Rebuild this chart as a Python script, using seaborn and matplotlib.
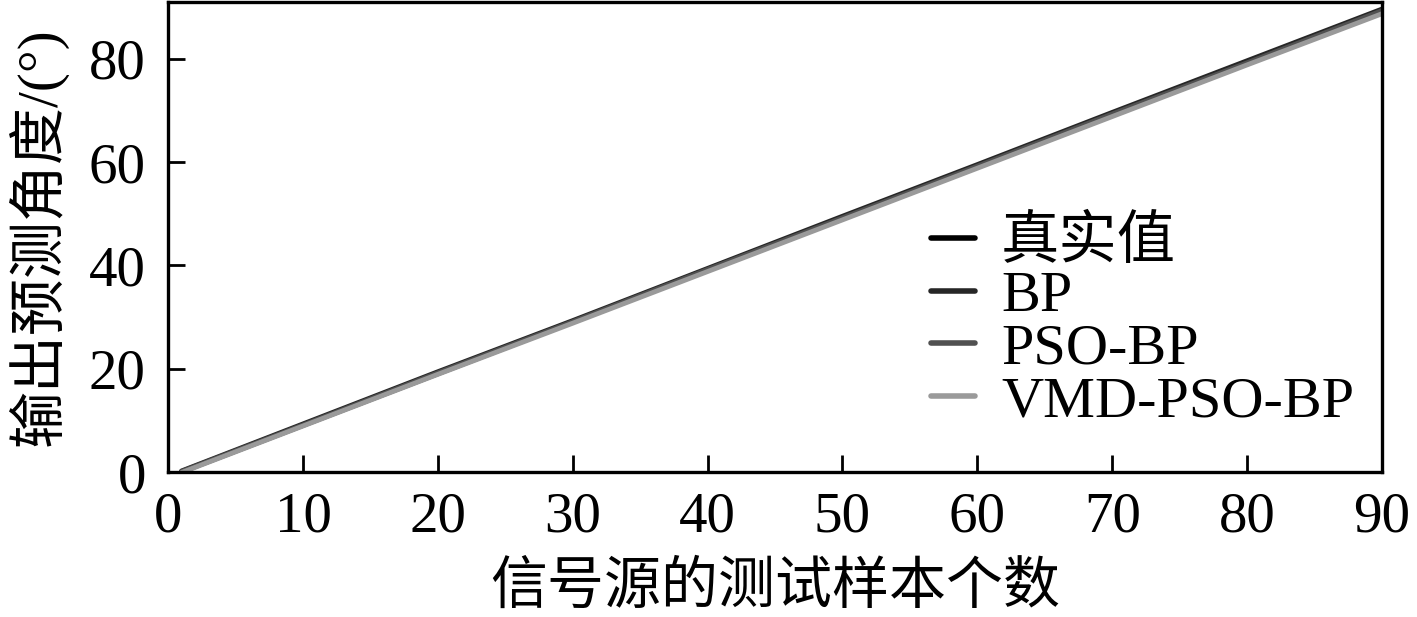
import pandas as pd
import numpy as np
import matplotlib.pyplot as plt
import seaborn as sns

# sample index and angles
samples = [1, 10, 20, 30, 40, 50, 60, 70, 80, 90]
true_vals = [0, 9, 19, 29, 39, 49, 59, 69, 79, 89]
bp_vals = [0.2, 9.3, 19.4, 29.3, 39.4, 49.5, 59.5, 69.6, 79.6, 89.6]
pso_bp_vals = [0.1, 9.1, 19.2, 29.1, 39.2, 49.2, 59.2, 69.3, 79.2, 89.3]
vmd_pso_bp_vals = [-0.1, 8.9, 18.9, 28.8, 38.8, 48.8, 58.8, 68.8, 78.8, 88.7]
names = ['真实值', 'BP', 'PSO-BP', 'VMD-PSO-BP']
colors = ['#000000', '#262626', '#505050', '#9a9a9a']

df = pd.DataFrame({
    'x': samples * 4,
    'y': true_vals + bp_vals + pso_bp_vals + vmd_pso_bp_vals,
    'model': [n for n in names for _ in samples],
})

sns.set_style('ticks')
plt.rcParams['font.family'] = ['Liberation Serif', 'Noto Sans CJK SC']
plt.rcParams['axes.unicode_minus'] = False
for k in ['text.color', 'axes.labelcolor', 'xtick.color', 'ytick.color']:
    plt.rcParams[k] = 'black'

fig = plt.figure(figsize=(14.17, 6.17), dpi=100)
ax = fig.add_axes([0.1186, 0.235, 0.8567, 0.762])
sns.lineplot(data=df, x='x', y='y', hue='model', palette=colors,
             linewidth=3.5, ax=ax, legend=False)

ax.set_xlim(0, 90)
ax.set_ylim(0, 91)
ax.set_xticks(range(0, 91, 10))
ax.set_yticks(range(0, 81, 20))
ax.tick_params(direction='in', length=12, width=2, labelsize=41)
ax.tick_params(axis='x', pad=14)
ax.tick_params(axis='y', pad=16)
for s in ax.spines.values():
    s.set_linewidth(2.4)
    s.set_color('black')
ax.set_xlabel('信号源的测试样本个数', fontsize=41)
ax.set_ylabel('输出预测角度/(°)', fontsize=41)
ax.xaxis.set_label_coords(0.5, -0.19)
ax.yaxis.set_label_coords(-0.083, 0.5)

handles = [plt.Line2D([], [], color=c, linewidth=4) for c in colors]
fig.legend(handles, names, loc='upper left', bbox_to_anchor=(0.657, 0.65),
           frameon=False, fontsize=42, handlelength=0.75, handletextpad=0.45,
           labelspacing=0.0, borderpad=0, borderaxespad=0)

fig.savefig('out.png', dpi=100)
